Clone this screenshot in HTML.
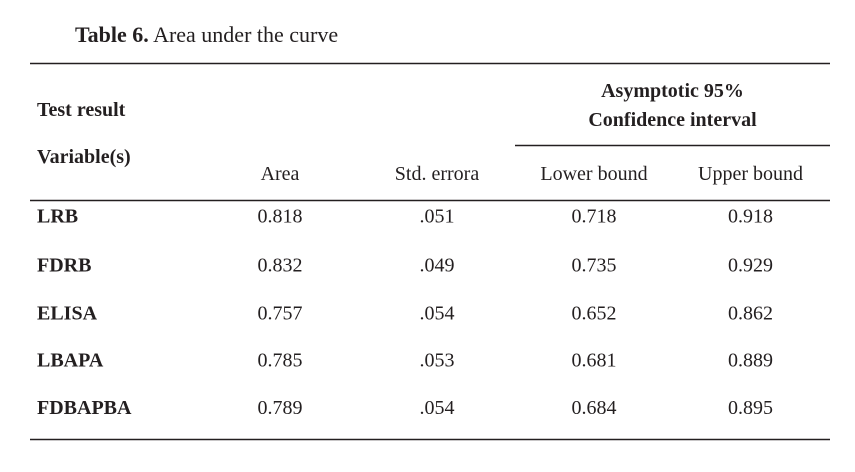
<!DOCTYPE html>
<html>
<head>
<meta charset="utf-8">
<style>
  html,body{margin:0;padding:0;background:#fff;}
  svg{display:block;}
  text{font-family:"Liberation Serif","Times New Roman",serif;fill:#231f20;font-size:20px;}
  .b{font-weight:bold;}
</style>
</head>
<body>
<svg width="855" height="472" viewBox="0 0 855 472" xmlns="http://www.w3.org/2000/svg">
  <text x="75" y="42" style="font-size:22px"><tspan class="b" font-weight="bold">Table 6.</tspan> Area under the curve</text>

  <g stroke="#231f20" stroke-width="1.4">
    <line x1="30" y1="63.5" x2="830" y2="63.5"/>
    <line x1="515" y1="145.5" x2="830" y2="145.5"/>
    <line x1="30" y1="200.5" x2="830" y2="200.5"/>
    <line x1="30" y1="439.5" x2="830" y2="439.5"/>
  </g>

  <text class="b" x="37" y="116">Test result</text>
  <text class="b" x="37" y="163">Variable(s)</text>
  <text class="b" x="672.5" y="97" text-anchor="middle">Asymptotic 95%</text>
  <text class="b" x="672.5" y="126" text-anchor="middle">Confidence interval</text>

  <text x="280" y="180" text-anchor="middle">Area</text>
  <text x="437" y="180" text-anchor="middle">Std. errora</text>
  <text x="594" y="180" text-anchor="middle">Lower bound</text>
  <text x="750.5" y="180" text-anchor="middle">Upper bound</text>

  <g>
    <text class="b" x="37" y="222.7">LRB</text>
    <text x="280" y="222.7" text-anchor="middle">0.818</text>
    <text x="437" y="222.7" text-anchor="middle">.051</text>
    <text x="594" y="222.7" text-anchor="middle">0.718</text>
    <text x="750.5" y="222.7" text-anchor="middle">0.918</text>
  </g>
  <g>
    <text class="b" x="37" y="271.5">FDRB</text>
    <text x="280" y="271.5" text-anchor="middle">0.832</text>
    <text x="437" y="271.5" text-anchor="middle">.049</text>
    <text x="594" y="271.5" text-anchor="middle">0.735</text>
    <text x="750.5" y="271.5" text-anchor="middle">0.929</text>
  </g>
  <g>
    <text class="b" x="37" y="319.3">ELISA</text>
    <text x="280" y="319.3" text-anchor="middle">0.757</text>
    <text x="437" y="319.3" text-anchor="middle">.054</text>
    <text x="594" y="319.3" text-anchor="middle">0.652</text>
    <text x="750.5" y="319.3" text-anchor="middle">0.862</text>
  </g>
  <g>
    <text class="b" x="37" y="366.7">LBAPA</text>
    <text x="280" y="366.7" text-anchor="middle">0.785</text>
    <text x="437" y="366.7" text-anchor="middle">.053</text>
    <text x="594" y="366.7" text-anchor="middle">0.681</text>
    <text x="750.5" y="366.7" text-anchor="middle">0.889</text>
  </g>
  <g>
    <text class="b" x="37" y="414">FDBAPBA</text>
    <text x="280" y="414" text-anchor="middle">0.789</text>
    <text x="437" y="414" text-anchor="middle">.054</text>
    <text x="594" y="414" text-anchor="middle">0.684</text>
    <text x="750.5" y="414" text-anchor="middle">0.895</text>
  </g>
</svg>
</body>
</html>
